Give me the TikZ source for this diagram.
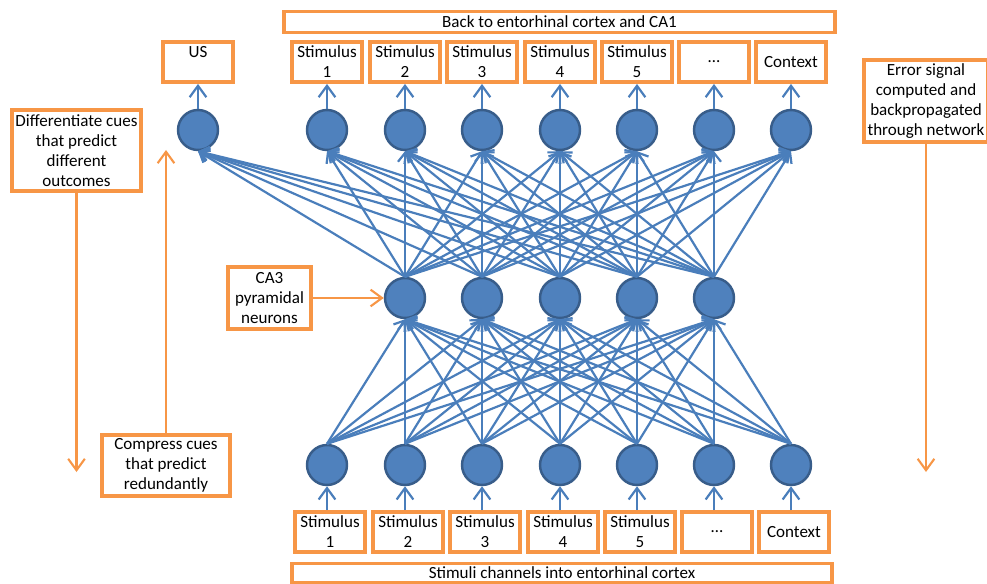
\documentclass[tikz,border=0pt]{standalone}
\usepackage{fontspec}
\setmainfont{Carlito}
\usetikzlibrary{arrows.meta, positioning}
\definecolor{nodeblue}{HTML}{4F81BD}
\definecolor{rimblue}{HTML}{385D8A}
\definecolor{linkblue}{HTML}{4A7EBB}
\definecolor{boxorange}{HTML}{F79646}

\begin{document}
\begin{tikzpicture}[x=0.02cm,y=-0.02cm,
  font=\fontsize{9.7}{11.4}\selectfont,
  unit/.style={circle,fill=nodeblue,draw=rimblue,line width=1.4pt,minimum size=0.8cm,inner sep=0pt},
  lbl/.style={rectangle,draw=boxorange,line width=2.2pt,minimum width=1.4cm,minimum height=0.8cm,
    align=center,inner sep=0pt},
  banner/.style={rectangle,draw=boxorange,line width=2.2pt,inner sep=0pt},
  link/.style={-{Straight Barb[length=5pt,width=8pt]},line width=1.25pt,color=linkblue},
  up/.style={-{Straight Barb[length=6.5pt,width=9.5pt]},line width=1.25pt,color=linkblue},
  note/.style={-{Straight Barb[length=6.5pt,width=9.5pt]},line width=1.2pt,color=boxorange}]
  \useasboundingbox (0,0) rectangle (987,584);
  % three layers of units
  \foreach \x [count=\i] in {327,405,482,560,637,714,791}
    \node[unit] (in\i) at (\x,465) {};
  \foreach \x [count=\i] in {405,482,560,637,714}
    \node[unit] (hid\i) at (\x,298) {};
  \foreach \x [count=\i] in {198,327,405,482,560,637,714,791}
    \node[unit] (out\i) at (\x,130) {};
  % stimulus boxes
  \foreach \x/\t [count=\i] in {198/{US\\\mbox{}},327/{Stimulus\\1},405/{Stimulus\\2},482/{Stimulus\\3},
      560/{Stimulus\\4},637/{Stimulus\\5},714/{…},791/{Context}}
    \node[lbl] (top\i) at (\x,62) {\t};
  \foreach \x/\t [count=\i] in {327/{Stimulus\\1},405/{Stimulus\\2},482/{Stimulus\\3},
      560/{Stimulus\\4},637/{Stimulus\\5},714/{…},791/{Context}}
    \node[lbl] (bot\i) at (\x+3,532) {\t};
  \node[banner,minimum width=11.02cm,minimum height=0.42cm] (back) at (559.5,22)
    {Back to entorhinal cortex and CA1};
  \node[banner,minimum width=10.8cm,minimum height=0.38cm] (chan) at (562,573)
    {Stimuli channels into entorhinal cortex};
  % side notes
  \node[lbl,minimum width=2.58cm,minimum height=1.62cm] (diff) at (76.5,150.5)
    {Differentiate cues\\that predict\\different\\outcomes};
  \node[lbl,minimum width=2.48cm,minimum height=1.64cm] (err) at (926,101)
    {Error signal\\computed and\\backpropagated\\through network};
  \node[lbl,minimum width=2.56cm,minimum height=1.22cm] (cmp) at (166,465.5)
    {Compress cues\\that predict\\redundantly};
  \node[lbl,minimum width=1.66cm,minimum height=1.24cm] (ca3) at (269.5,298)
    {CA3\\pyramidal\\neurons};
  \coordinate (diffend) at (76.5,472);
  \coordinate (cmpend) at (166,150);
  \coordinate (errend) at (926,472);
  % connections
  \foreach \i in {1,...,7}
    \foreach \j in {1,...,5}
      \draw[link] (in\i.north) -- (hid\j.south);
  \foreach \j in {1,...,5}
    \foreach \k in {1,...,8}
      \draw[link] (hid\j.north) -- (out\k.south);
  \foreach \i in {1,...,8}
    \draw[up] (out\i) -- (top\i);
  \foreach \i in {1,...,7}
    \draw[up] (bot\i.north -| in\i) -- (in\i);
  \draw[note] (diff) -- (diffend);
  \draw[note] (cmp) -- (cmpend);
  \draw[note] (err) -- (errend);
  \draw[note] (ca3) -- (hid1);
\end{tikzpicture}
\end{document}
